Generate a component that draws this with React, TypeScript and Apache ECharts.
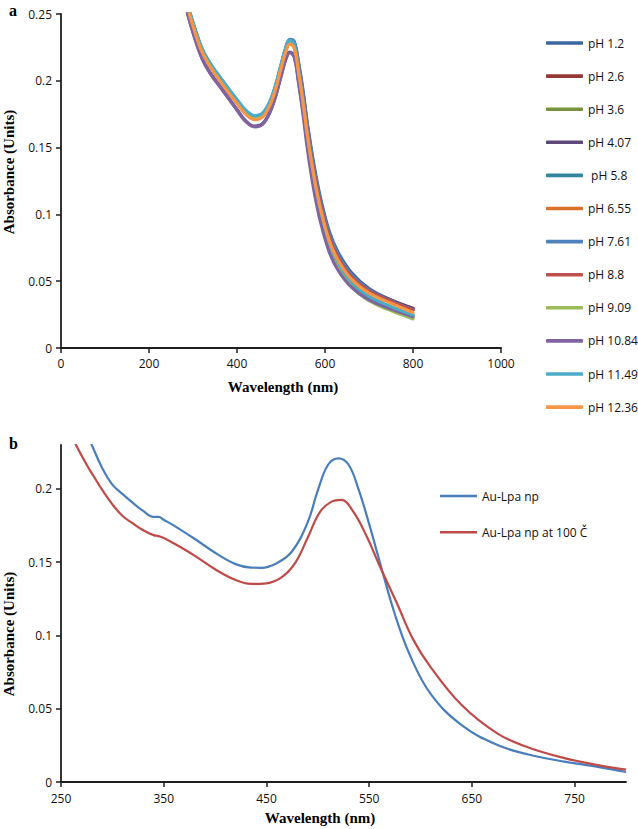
import React, { useEffect, useRef } from "react";
import * as echarts from "echarts";

// ---------- Panel a: UV-vis spectra at different pH ----------
const wavelengthA = [285, 300, 320, 340, 360, 380, 400, 420, 440, 460, 480, 500, 510, 520, 530, 540, 550, 560, 575, 590, 610, 630, 660, 700, 750, 800];

const pH_1_2 = [0.260, 0.243, 0.2235, 0.2115, 0.202, 0.193, 0.1845, 0.1765, 0.1725, 0.175, 0.1875, 0.2105, 0.2235, 0.2305, 0.229, 0.2135, 0.193, 0.168, 0.137, 0.112, 0.087, 0.0715, 0.0565, 0.0445, 0.036, 0.0295];
const pH_2_6 = [0.259, 0.242, 0.223, 0.211, 0.2015, 0.1925, 0.184, 0.176, 0.172, 0.1745, 0.187, 0.21, 0.2225, 0.229, 0.227, 0.2105, 0.1895, 0.1645, 0.1335, 0.109, 0.0845, 0.0695, 0.055, 0.0438, 0.0358, 0.0298];
const pH_3_6 = [0.259, 0.2425, 0.2235, 0.2115, 0.202, 0.193, 0.1845, 0.1765, 0.1725, 0.175, 0.1875, 0.2105, 0.2225, 0.2285, 0.2255, 0.2065, 0.1835, 0.157, 0.125, 0.1005, 0.0765, 0.0615, 0.047, 0.0365, 0.029, 0.0228];
const pH_4_07 = [0.254, 0.2365, 0.2175, 0.2055, 0.1965, 0.1875, 0.1785, 0.17, 0.166, 0.1685, 0.181, 0.2035, 0.2155, 0.2215, 0.2185, 0.1995, 0.1775, 0.1525, 0.1225, 0.0995, 0.0775, 0.0645, 0.052, 0.0425, 0.0355, 0.0292];
const pH_5_8 = [0.26, 0.2435, 0.2245, 0.2125, 0.203, 0.194, 0.1855, 0.1775, 0.1735, 0.176, 0.1885, 0.2115, 0.2235, 0.23, 0.2275, 0.2085, 0.186, 0.1605, 0.1285, 0.104, 0.0795, 0.064, 0.0495, 0.0385, 0.0305, 0.0242];
const pH_6_55 = [0.2585, 0.2415, 0.2225, 0.2105, 0.201, 0.192, 0.1835, 0.1755, 0.1715, 0.174, 0.1865, 0.2095, 0.2215, 0.228, 0.2255, 0.2075, 0.1855, 0.1605, 0.1295, 0.1055, 0.0815, 0.0668, 0.0528, 0.0422, 0.0345, 0.0282];
const pH_7_61 = [0.2595, 0.2425, 0.223, 0.211, 0.2015, 0.1925, 0.184, 0.176, 0.172, 0.1745, 0.1875, 0.2105, 0.2235, 0.231, 0.2295, 0.2125, 0.1915, 0.1665, 0.1355, 0.1105, 0.0855, 0.07, 0.055, 0.0435, 0.0352, 0.0286];
const pH_8_8 = [0.2585, 0.2415, 0.2225, 0.2105, 0.201, 0.192, 0.1835, 0.1755, 0.1715, 0.174, 0.1865, 0.2095, 0.222, 0.2285, 0.2265, 0.209, 0.1875, 0.1625, 0.1315, 0.107, 0.0825, 0.0675, 0.0532, 0.0425, 0.0348, 0.0285];
const pH_9_09 = [0.2585, 0.242, 0.223, 0.211, 0.2015, 0.1925, 0.184, 0.176, 0.172, 0.1745, 0.187, 0.21, 0.222, 0.228, 0.225, 0.2055, 0.1825, 0.156, 0.124, 0.0995, 0.0755, 0.0605, 0.046, 0.0355, 0.028, 0.0218];
const pH_10_84 = [0.2535, 0.236, 0.217, 0.205, 0.196, 0.187, 0.178, 0.1695, 0.1655, 0.168, 0.1805, 0.203, 0.215, 0.221, 0.2175, 0.198, 0.175, 0.149, 0.1175, 0.094, 0.0715, 0.058, 0.0455, 0.036, 0.0292, 0.0235];
const pH_11_49 = [0.2605, 0.2435, 0.2245, 0.2125, 0.2035, 0.1945, 0.186, 0.178, 0.174, 0.1765, 0.189, 0.212, 0.224, 0.2302, 0.2275, 0.208, 0.1855, 0.16, 0.128, 0.1035, 0.079, 0.0638, 0.0495, 0.0388, 0.031, 0.0248];
const pH_12_36 = [0.258, 0.241, 0.222, 0.21, 0.2005, 0.1915, 0.183, 0.175, 0.171, 0.1735, 0.186, 0.209, 0.221, 0.2275, 0.2245, 0.206, 0.184, 0.159, 0.128, 0.104, 0.08, 0.0655, 0.0515, 0.041, 0.0335, 0.0265];

const namesA = ["pH 1.2", "pH 2.6", "pH 3.6", "pH 4.07", " pH 5.8", "pH 6.55", "pH 7.61", "pH 8.8", "pH 9.09", "pH 10.84", "pH 11.49", "pH 12.36"];
const valuesA = [pH_1_2, pH_2_6, pH_3_6, pH_4_07, pH_5_8, pH_6_55, pH_7_61, pH_8_8, pH_9_09, pH_10_84, pH_11_49, pH_12_36];
const colorsA = ["#3A67A0", "#953735", "#77933C", "#5F497A", "#31859C", "#D9712A", "#4F81BD", "#C0504D", "#9BBB59", "#8064A2", "#4BACC6", "#F79646"];

// ---------- Panel b: effect of heating ----------
const wavelengthB1 = [270, 280, 290, 300, 310, 320, 330, 340, 345, 350, 360, 380, 400, 420, 435, 445, 460, 475, 490, 500, 510, 520, 530, 540, 550, 560, 575, 590, 610, 640, 675, 705, 740, 770, 800];
const auLpa = [0.246, 0.23, 0.2145, 0.203, 0.1965, 0.1905, 0.185, 0.181, 0.181, 0.179, 0.175, 0.166, 0.1565, 0.1487, 0.1463, 0.1462, 0.1493, 0.1575, 0.177, 0.199, 0.2165, 0.2209, 0.2165, 0.199, 0.176, 0.151, 0.1145, 0.086, 0.06, 0.0388, 0.0252, 0.0188, 0.0139, 0.0107, 0.0068];
const wavelengthB2 = [258, 265, 275, 282, 290, 300, 310, 320, 330, 340, 345, 350, 360, 380, 400, 420, 435, 450, 465, 478, 490, 502, 513, 523, 535, 548, 560, 577, 593, 610, 640, 675, 705, 740, 770, 800];
const auLpa100 = [0.24, 0.2295, 0.2165, 0.2085, 0.1995, 0.1895, 0.1815, 0.1765, 0.1718, 0.1685, 0.1678, 0.1665, 0.1628, 0.1545, 0.1452, 0.1378, 0.1352, 0.1356, 0.1398, 0.1495, 0.1665, 0.1842, 0.1912, 0.1925, 0.184, 0.167, 0.1478, 0.122, 0.097, 0.0782, 0.0525, 0.033, 0.0235, 0.0163, 0.0119, 0.0084];

const namesB = ["Au-Lpa np", "Au-Lpa np at 100 Č"];
const colorsB = ["#4A7EBB", "#BE4B48"];

const xTicksB = [250, 350, 450, 550, 650, 750];
const yTicksB = [0, 0.05, 0.1, 0.15, 0.2];

const FONT = "'Open Sans', sans-serif";
const SERIF = "'Liberation Serif', 'DejaVu Serif', serif";
const AXIS_COLOR = "#1e1e1e";

function zip(xs: number[], ys: number[]) {
  return xs.map((x, i) => [x, ys[i]]);
}

export default function App() {
  const ref = useRef<HTMLDivElement>(null);

  useEffect(() => {
    if (!ref.current) return;
    const chart = echarts.init(ref.current, undefined, { renderer: "svg" });

    const plainLabel = (v: number) => String(v);
    const axisCommon = {
      axisLine: { show: true, lineStyle: { color: AXIS_COLOR, width: 1.8 } },
      axisTick: { show: true, inside: false, length: 5, lineStyle: { color: AXIS_COLOR, width: 1.5 } },
      splitLine: { show: false },
      axisLabel: { color: "#111", fontFamily: FONT, fontSize: 12, margin: 9, formatter: plainLabel },
    };

    const seriesA = valuesA.map((vals, i) => ({
      type: "line",
      name: namesA[i],
      xAxisIndex: 0,
      yAxisIndex: 0,
      data: zip(wavelengthA, vals),
      smooth: 0.4,
      symbol: "none",
      lineStyle: { color: colorsA[i], width: 3.2, cap: "round" },
      itemStyle: { color: colorsA[i] },
      clip: true,
    }));

    const seriesB = [
      { name: namesB[0], data: zip(wavelengthB1, auLpa), color: colorsB[0] },
      { name: namesB[1], data: zip(wavelengthB2, auLpa100), color: colorsB[1] },
    ].map((s) => ({
      type: "line",
      name: s.name,
      xAxisIndex: 1,
      yAxisIndex: 1,
      data: s.data,
      smooth: 0.4,
      symbol: "none",
      lineStyle: { color: s.color, width: 2.2 },
      itemStyle: { color: s.color },
      clip: true,
    }));

    chart.setOption({
      animation: false,
      backgroundColor: "#ffffff",
      textStyle: { fontFamily: FONT },
      grid: [
        { left: 61, top: 14, width: 440, height: 334, containLabel: false },
        { left: 61, top: 445, width: 565, height: 337, containLabel: false },
      ],
      xAxis: [
        {
          gridIndex: 0,
          type: "value",
          min: 0,
          max: 1000,
          interval: 200,
          ...axisCommon,
        },
        {
          gridIndex: 1,
          type: "value",
          min: 250,
          max: 800,
          ...axisCommon,
          axisTick: { ...axisCommon.axisTick, customValues: xTicksB },
          axisLabel: { ...axisCommon.axisLabel, margin: 10, customValues: xTicksB },
        },
      ],
      yAxis: [
        {
          gridIndex: 0,
          type: "value",
          min: 0,
          max: 0.25,
          interval: 0.05,
          ...axisCommon,
        },
        {
          gridIndex: 1,
          type: "value",
          min: 0,
          max: 0.23,
          ...axisCommon,
          axisTick: { ...axisCommon.axisTick, customValues: yTicksB },
          axisLabel: { ...axisCommon.axisLabel, customValues: yTicksB },
        },
      ],
      legend: [
        {
          data: namesA,
          orient: "vertical",
          left: 541,
          top: 31,
          icon: "roundRect",
          itemWidth: 37,
          itemHeight: 3.6,
          itemGap: 19.1,
          textStyle: { fontFamily: FONT, fontSize: 12, color: "#111", lineHeight: 14 },
          selectedMode: false,
        },
        {
          data: namesB,
          orient: "vertical",
          left: 435,
          top: 484,
          icon: "rect",
          itemWidth: 37,
          itemHeight: 2.6,
          itemGap: 22.3,
          textStyle: { fontFamily: FONT, fontSize: 12, color: "#111", lineHeight: 14 },
          selectedMode: false,
        },
      ],
      graphic: [
        {
          type: "text",
          x: 9,
          y: 10,
          style: { text: "a", font: `bold 16px ${SERIF}`, fill: "#000", align: "left", verticalAlign: "middle" },
        },
        {
          type: "text",
          x: 9,
          y: 443,
          style: { text: "b", font: `bold 16px ${SERIF}`, fill: "#000", align: "left", verticalAlign: "middle" },
        },
        {
          type: "text",
          x: 9,
          y: 172,
          rotation: Math.PI / 2,
          style: { text: "Absorbance (Units)", font: `bold 15px ${SERIF}`, fill: "#000", align: "center", verticalAlign: "middle" },
        },
        {
          type: "text",
          x: 283,
          y: 387,
          style: { text: "Wavelength (nm)", font: `bold 15px ${SERIF}`, fill: "#000", align: "center", verticalAlign: "middle" },
        },
        {
          type: "text",
          x: 9,
          y: 634,
          rotation: Math.PI / 2,
          style: { text: "Absorbance (Units)", font: `bold 15px ${SERIF}`, fill: "#000", align: "center", verticalAlign: "middle" },
        },
        {
          type: "text",
          x: 320,
          y: 818,
          style: { text: "Wavelength (nm)", font: `bold 15px ${SERIF}`, fill: "#000", align: "center", verticalAlign: "middle" },
        },
      ],
      series: [...seriesA, ...seriesB],
    });

    return () => {
      chart.dispose();
    };
  }, []);

  return (
    <div
      ref={ref}
      style={{ position: "fixed", left: 0, top: 0, width: 638, height: 829, background: "#fff" }}
    />
  );
}
